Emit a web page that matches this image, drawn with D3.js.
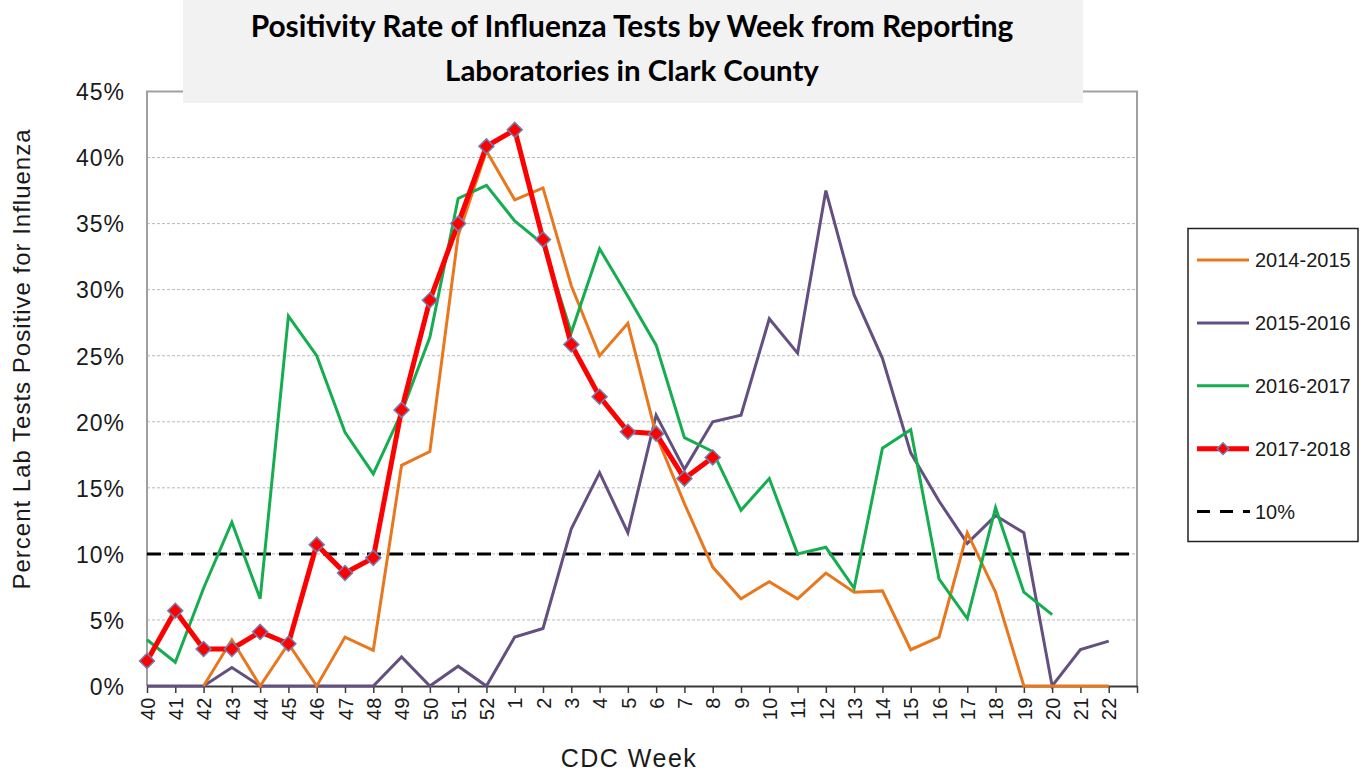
<!DOCTYPE html>
<html>
<head>
<meta charset="utf-8">
<script src="https://cdn.jsdelivr.net/npm/d3@7"></script>
<style>
  html, body { margin: 0; padding: 0; background: #fff; }
  svg { display: block; }
</style>
</head>
<body>
<svg id="chart" width="1363" height="772"></svg>
<script>
// ---- data ----
const weeks = [40,41,42,43,44,45,46,47,48,49,50,51,52,1,2,3,4,5,6,7,8,9,10,11,12,13,14,15,16,17,18,19,20,21,22];
const seriesNames = ["2014-2015", "2015-2016", "2016-2017", "2017-2018"];
const s2014 = [null,null,0,3.5,0,3.2,0,3.7,2.7,16.7,17.75,34.1,40.5,
  36.8,37.7,30.3,25.0,27.45,19.0,13.8,9.0,6.6,7.9,6.6,8.55,7.1,7.2,2.75,3.7,11.6,7.1,0,0,0,0];
const s2015 = [0,0,0,1.4,0,0,0,0,0,2.2,0,1.5,0,
  3.7,4.35,11.9,16.15,11.6,20.5,16.4,20.0,20.5,27.8,25.2,37.5,29.6,24.8,17.65,14.0,10.8,12.9,11.6,0,2.75,3.4];
const s2016 = [3.5,1.8,7.4,12.4,6.6,28.0,25.0,19.2,16.05,20.7,26.4,36.9,37.9,
  35.2,33.45,26.75,33.1,29.5,25.8,18.8,17.75,13.3,15.7,10.0,10.5,7.4,18.0,19.4,8.1,5.1,13.5,7.1,5.4,null,null];
const s2017 = [1.9,5.7,2.8,2.8,4.1,3.2,10.7,8.55,9.7,20.9,29.2,35.0,40.85,
  42.1,33.8,25.85,21.9,19.25,19.1,15.7,17.3,null,null,null,null,null,null,null,null,null,null,null,null,null,null];
const threshold = 10;
const yTicks = [0,5,10,15,20,25,30,35,40,45];
const titleLines = ["Positivity Rate of Influenza Tests by Week from Reporting", "Laboratories in Clark County"];
const yTitle = "Percent Lab Tests Positive for Influenza";
const xTitle = "CDC Week";

// ---- layout ----
const svg = d3.select("#chart");
const L = 147, R = 1137, T = 91.5, B = 686;
const FONT = "'Liberation Sans', Arial, sans-serif";

const x = d3.scaleLinear().domain([0, weeks.length]).range([L, R]);
const y = d3.scaleLinear().domain([0, 45]).range([B, T]);

// gridlines
svg.append("g").selectAll("line").data(yTicks.filter(t => t > 0 && t < 45)).join("line")
  .attr("x1", L).attr("x2", R).attr("y1", d => y(d)).attr("y2", d => y(d))
  .attr("stroke", "#b8b8b8").attr("stroke-width", 1).attr("stroke-dasharray", "3,2");

// plot frame (left, top, right)
svg.append("path")
  .attr("d", `M${L},${B} L${L},${T} L${R},${T} L${R},${B}`)
  .attr("fill", "none").attr("stroke", "#a0a0a0").attr("stroke-width", 2);

// title box
svg.append("rect").attr("x", 183).attr("y", 0).attr("width", 900).attr("height", 103).attr("fill", "#f2f2f2");
const titleTargets = [{w: 763, y: 37}, {w: 374, y: 81}];
titleLines.forEach((t, i) => {
  const el = svg.append("text").attr("x", 632).attr("y", titleTargets[i].y)
    .attr("text-anchor", "middle").attr("font-family", "Lato, 'Open Sans', sans-serif")
    .attr("font-weight", "bold").attr("font-size", 26).attr("fill", "#000").text(t);
  const w = el.node().getComputedTextLength();
  if (w > 0) el.attr("font-size", 26 * titleTargets[i].w / w);
});

// y axis labels
const yAxis = svg.append("g").attr("transform", `translate(${L},0)`)
  .call(d3.axisLeft(y).tickValues(yTicks).tickSize(0).tickPadding(22).tickFormat(d => d + "%"));
yAxis.select(".domain").remove();
yAxis.selectAll("text").attr("font-family", FONT).attr("font-size", 23)
  .attr("letter-spacing", "1px").attr("fill", "#1a1a1a").attr("dy", "0.36em");

// x axis
const xAxis = svg.append("g").attr("transform", `translate(0,${B})`)
  .call(d3.axisBottom(x).tickValues(d3.range(0, weeks.length + 1)).tickSize(7).tickSizeOuter(0)
    .tickFormat(i => i < weeks.length ? weeks[i] : ""));
xAxis.select(".domain").attr("stroke", "#3a3a3a").attr("stroke-width", 2);
xAxis.selectAll(".tick line").attr("stroke", "#3a3a3a").attr("stroke-width", 1.5);
xAxis.selectAll("text")
  .attr("font-family", FONT).attr("font-size", 20).attr("letter-spacing", "0.5px").attr("fill", "#1a1a1a")
  .attr("text-anchor", "end").attr("transform", "rotate(-90)")
  .attr("x", -11).attr("y", 0).attr("dy", "0.36em");

// axis titles
svg.append("text").attr("transform", `translate(30,359) rotate(-90)`)
  .attr("text-anchor", "middle").attr("font-family", FONT).attr("font-size", 24)
  .attr("letter-spacing", "1px").attr("fill", "#1a1a1a").text(yTitle);
svg.append("text").attr("x", 629).attr("y", 767).attr("text-anchor", "middle")
  .attr("font-family", FONT).attr("font-size", 25).attr("letter-spacing", "1.5px")
  .attr("fill", "#1a1a1a").text(xTitle);

// threshold line
svg.append("line").attr("x1", L).attr("x2", R).attr("y1", y(threshold)).attr("y2", y(threshold))
  .attr("stroke", "#000").attr("stroke-width", 3).attr("stroke-dasharray", "14,8");

// series lines
const colors = {"2014-2015": "#E8771E", "2015-2016": "#634F80", "2016-2017": "#16AD50", "2017-2018": "#FF0000"};
const seriesData = {"2014-2015": s2014, "2015-2016": s2015, "2016-2017": s2016, "2017-2018": s2017};
const line = d3.line().defined(d => d != null).x((d, i) => x(i)).y(d => y(d));
const drawOrder = ["2015-2016", "2014-2015", "2016-2017", "2017-2018"];
drawOrder.forEach(name => {
  svg.append("path").datum(seriesData[name])
    .attr("d", line)
    .attr("fill", "none").attr("stroke", colors[name])
    .attr("stroke-width", name === "2017-2018" ? 5 : 3)
    .attr("stroke-linejoin", "miter").attr("stroke-linecap", "butt");
});

// markers for 2017-2018
svg.append("g").selectAll("path")
  .data(s2017.map((v, i) => ({v, i})).filter(d => d.v != null)).join("path")
  .attr("d", d3.symbol().type(d3.symbolSquare).size(112))
  .attr("transform", d => `translate(${x(d.i)},${y(d.v)}) rotate(45)`)
  .attr("fill", "#FF0000").attr("stroke", "#7080B0").attr("stroke-width", 1.5);

// legend
const lg = svg.append("g");
lg.append("rect").attr("x", 1188).attr("y", 228.5).attr("width", 170).attr("height", 313)
  .attr("fill", "#fff").attr("stroke", "#222").attr("stroke-width", 1.5);
const legendItems = seriesNames.concat(["10%"]);
const legendY = d3.scalePoint().domain(legendItems).range([260, 511.5]);
legendItems.forEach(name => {
  const ly = legendY(name);
  if (name === "10%") {
    lg.append("line").attr("x1", 1197).attr("x2", 1250).attr("y1", ly).attr("y2", ly)
      .attr("stroke", "#000").attr("stroke-width", 3).attr("stroke-dasharray", "13,10");
  } else {
    lg.append("line").attr("x1", 1197).attr("x2", 1249).attr("y1", ly).attr("y2", ly)
      .attr("stroke", colors[name]).attr("stroke-width", name === "2017-2018" ? 5 : 3);
    if (name === "2017-2018") {
      lg.append("path").attr("d", d3.symbol().type(d3.symbolSquare).size(70))
        .attr("transform", `translate(1223,${ly}) rotate(45)`)
        .attr("fill", "#FF0000").attr("stroke", "#7080B0").attr("stroke-width", 1.5);
    }
  }
  lg.append("text").attr("x", 1255).attr("y", ly).attr("dy", "0.36em")
    .attr("font-family", FONT).attr("font-size", 20).attr("fill", "#1a1a1a").text(name);
});
</script>
</body>
</html>
